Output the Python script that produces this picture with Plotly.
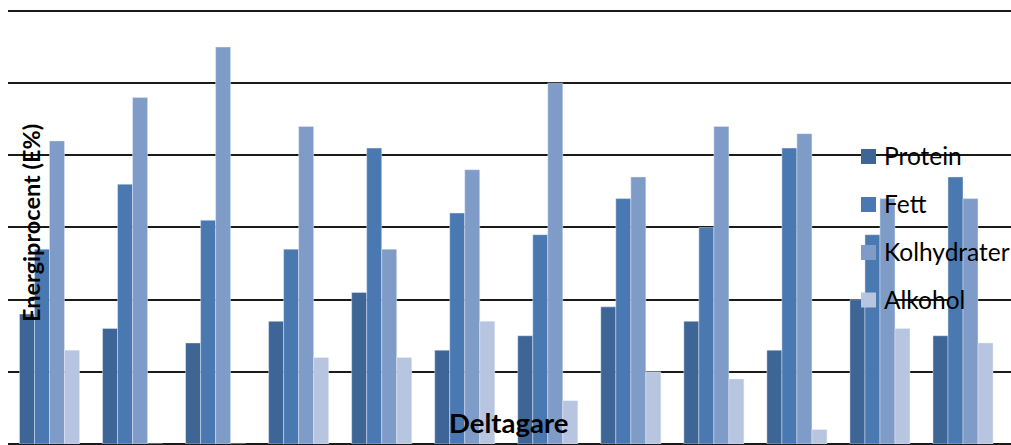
import plotly.graph_objects as go

# Energy share per participant (E%)
participants = [str(i) for i in range(1, 13)]
protein = [18, 16, 14, 17, 21, 13, 15, 19, 17, 13, 20, 15]
fett = [27, 36, 31, 27, 41, 32, 29, 34, 30, 41, 29, 37]
kolhydrater = [42, 48, 55, 44, 27, 38, 50, 37, 44, 43, 34, 34]
alkohol = [13, 0, 0, 12, 12, 17, 6, 10, 9, 2, 16, 14]

series_names = ["Protein", "Fett", "Kolhydrater", "Alkohol"]
series_values = [protein, fett, kolhydrater, alkohol]
series_colors = ["#3d6596", "#4a78b0", "#7f9cc8", "#b7c5e0"]

W, H = 1011, 445
ML, MR, MT, MB = 8, 0, 0, 1
PW, PH = W - ML - MR, H - MT - MB

FONT = "Lato"

fig = go.Figure()
for name, vals, col in zip(series_names, series_values, series_colors):
    fig.add_trace(go.Bar(
        x=participants, y=vals, name=name,
        marker=dict(color=col, line=dict(color="rgba(235,240,250,0.55)", width=0.8)),
        showlegend=False,
    ))


def px_x(px):
    return (px - ML) / PW


def px_y(py):
    return (H - MB - py) / PH


# Legend drawn as squares and labels on top of the plot
leg_centers = [156.5, 204.5, 252.5, 300]
for name, col, cy in zip(series_names, series_colors, leg_centers):
    fig.add_shape(type="rect", xref="paper", yref="paper",
                  x0=px_x(861), x1=px_x(876), y0=px_y(cy + 7.5), y1=px_y(cy - 7.5),
                  fillcolor=col, line=dict(width=0), layer="above")
    fig.add_annotation(text=name, xref="paper", yref="paper",
                       x=px_x(882), y=px_y(cy - 1), xanchor="left", yanchor="middle",
                       showarrow=False, font=dict(family=FONT, size=24.5, color="#000"))

fig.add_annotation(text="<b>Energiprocent (E%)</b>", xref="paper", yref="paper",
                   x=px_x(31), y=px_y(223), textangle=-90,
                   xanchor="center", yanchor="middle", showarrow=False,
                   font=dict(family=FONT, size=23.5, color="#000"))
fig.add_annotation(text="<b>Deltagare</b>", xref="paper", yref="paper",
                   x=px_x(508), y=px_y(422), xanchor="center", yanchor="middle",
                   showarrow=False, font=dict(family=FONT, size=27.5, color="#000"))

fig.update_layout(
    width=W, height=H,
    margin=dict(l=ML, r=MR, t=MT, b=MB, pad=0),
    paper_bgcolor="white", plot_bgcolor="white",
    barmode="group", bargap=0.277, bargroupgap=0,
    font=dict(family=FONT),
    xaxis=dict(type="category", range=[-0.5, 11.578], showticklabels=False,
               showgrid=False, zeroline=False, ticks="", fixedrange=True),
    yaxis=dict(range=[0, 61.52], dtick=10, showticklabels=False, ticks="",
               showgrid=True, gridcolor="#1a1a1a", gridwidth=2,
               zeroline=True, zerolinecolor="#1a1a1a", zerolinewidth=2,
               fixedrange=True),
    showlegend=False,
)

fig.write_html("out.html")
